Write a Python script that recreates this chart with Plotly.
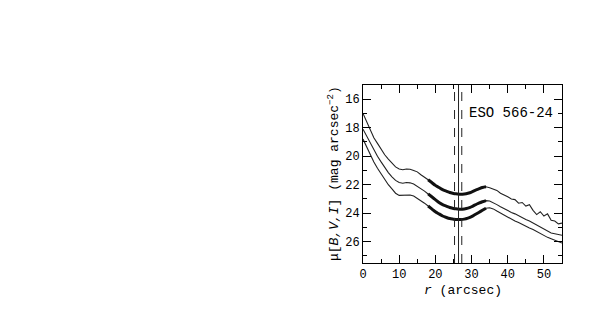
import plotly.graph_objects as go

# radius (arcsec)
r = list(range(0, 56))

mu_top = [17.0, 17.6, 18.2, 18.7, 19.1, 19.5, 19.9, 20.2, 20.5, 20.75, 20.9, 20.95, 20.9, 20.92,
          21.0, 21.1, 21.3, 21.45, 21.65, 21.85, 22.05, 22.2, 22.35, 22.45, 22.55, 22.62, 22.65,
          22.67, 22.65, 22.6, 22.52, 22.4, 22.3, 22.2, 22.15, 22.22, 22.3, 22.4, 22.6, 22.7, 22.85,
          23.0, 23.05, 23.3, 23.25, 23.5, 23.4, 23.8, 24.1, 23.9, 24.2, 24.05, 24.5, 24.55, 24.75, 24.7]

mu_mid = [18.1, 18.6, 19.1, 19.6, 20.0, 20.4, 20.8, 21.15, 21.45, 21.7, 21.85, 21.9, 21.85, 21.87,
          21.95, 22.1, 22.25, 22.45, 22.65, 22.85, 23.05, 23.25, 23.4, 23.5, 23.6, 23.67, 23.7,
          23.72, 23.7, 23.65, 23.55, 23.42, 23.3, 23.2, 23.12, 23.15, 23.25, 23.4, 23.55, 23.7, 23.82,
          23.95, 24.05, 24.2, 24.3, 24.45, 24.55, 24.7, 24.85, 25.0, 25.15, 25.3, 25.4, 25.45, 25.5, 25.55]

mu_bot = [18.8, 19.35, 19.9, 20.4, 20.85, 21.25, 21.65, 22.0, 22.3, 22.6, 22.75, 22.75, 22.7, 22.72,
          22.8, 22.95, 23.1, 23.3, 23.5, 23.7, 23.9, 24.05, 24.2, 24.3, 24.38, 24.42, 24.45,
          24.45, 24.42, 24.35, 24.25, 24.1, 23.95, 23.8, 23.65, 23.62, 23.7, 23.85, 24.0, 24.15, 24.3,
          24.42, 24.55, 24.65, 24.8, 24.9, 25.05, 25.15, 25.3, 25.45, 25.55, 25.7, 25.8, 25.9, 26.0, 26.1]

fit_range = [18, 34]          # radial range of the thick (fitted) segments
vline_solid = [26.4]
vline_dashed = [25.3, 27.3]
label = "ESO 566-24"

FONT = "Liberation Mono"
fig = go.Figure()
for mu in (mu_top, mu_mid, mu_bot):
    fig.add_trace(go.Scatter(x=r, y=mu, mode="lines",
                             line=dict(color="#222", width=1.1), showlegend=False))
    rs = [x for x in r if fit_range[0] <= x <= fit_range[1]]
    ms = [m for x, m in zip(r, mu) if fit_range[0] <= x <= fit_range[1]]
    fig.add_trace(go.Scatter(x=rs, y=ms, mode="lines",
                             line=dict(color="#111", width=3, shape="spline"), showlegend=False))

for v in vline_solid:
    fig.add_vline(x=v, line=dict(color="#222", width=1))
for v in vline_dashed:
    fig.add_vline(x=v, line=dict(color="#222", width=1, dash="dash"))

axis_common = dict(showline=True, linecolor="black", linewidth=1, mirror="allticks",
                   ticks="inside", tickcolor="black", showgrid=False, zeroline=False,
                   tickfont=dict(family=FONT, size=12, color="black"))
fig.update_xaxes(range=[0, 55], tickvals=[0, 10, 20, 30, 40, 50], ticklen=8,
                 minor=dict(dtick=5, tick0=0, ticks="inside", ticklen=4, tickcolor="black"),
                 **axis_common)
fig.update_yaxes(range=[27.5, 15], tickvals=[16, 18, 20, 22, 24, 26], ticklen=8,
                 minor=dict(dtick=1, tick0=15, ticks="inside", ticklen=4, tickcolor="black"),
                 **axis_common)

fig.add_annotation(text=label, xref="paper", yref="paper", x=0.965, y=0.843,
                   xanchor="right", yanchor="middle", showarrow=False,
                   font=dict(family=FONT, size=14, color="black"))
fig.add_annotation(text="<i>r</i> (arcsec)", xref="paper", yref="paper", x=0.5, y=0,
                   yshift=-27, xanchor="center", yanchor="middle", showarrow=False,
                   font=dict(family=FONT, size=13, color="black"))
fig.add_annotation(text="μ[<i>B,V,I</i>] (mag arcsec<sup>−2</sup>)", xref="paper", yref="paper",
                   x=0, xshift=-30, y=0.5, textangle=-90, xanchor="center", yanchor="middle",
                   showarrow=False, font=dict(family=FONT, size=13, color="black"))

fig.update_layout(width=598, height=318, margin=dict(l=355, r=44, t=77, b=63),
                  paper_bgcolor="white", plot_bgcolor="white")
fig.write_html("out.html")
